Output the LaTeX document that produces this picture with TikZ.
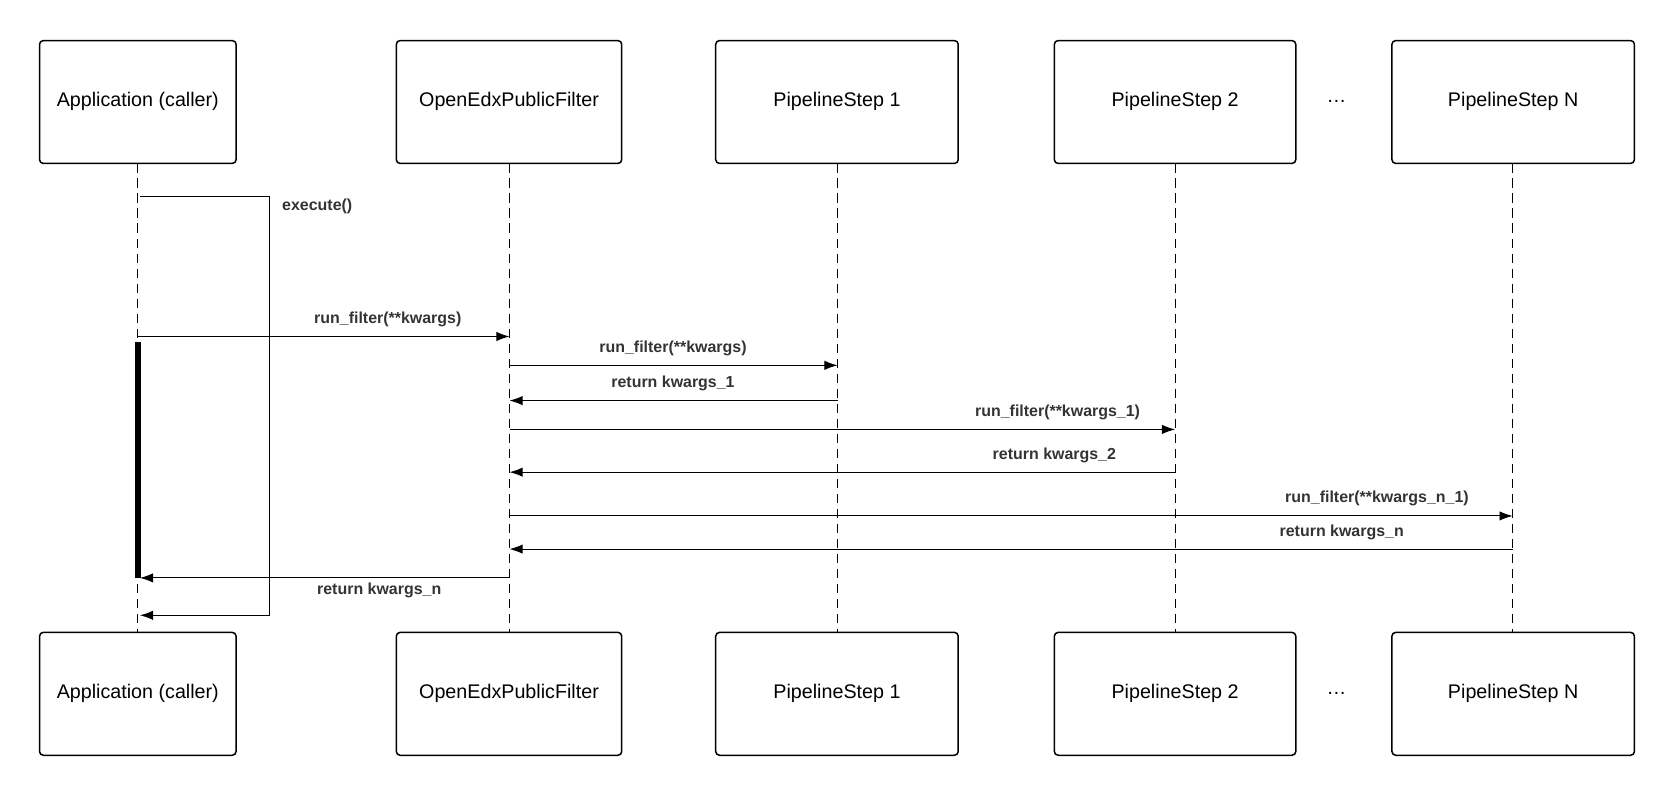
\documentclass[tikz,border=0pt]{standalone}
\usepackage{fontspec}
\setmainfont{Liberation Sans}
\usetikzlibrary{arrows.meta}
\tikzset{
  actor/.style={draw=black, rounded corners=2pt, line width=0.8pt, font=\fontsize{10.5}{12}\selectfont},
  msg/.style={-{Latex[length=7pt,width=5pt]}, line width=0.5pt},
  lbl/.style={font=\bfseries\fontsize{8.5}{10}\selectfont, text=black!80},
  life/.style={dashed, line width=0.5pt, dash pattern=on 5pt off 3pt}
}
\begin{document}
\begin{tikzpicture}[x=0.02cm, y=-0.02cm]
\useasboundingbox (0,0) rectangle (1568,746);
% actors, top and bottom
\foreach \name/\xa/\xb/\txt in {app/37/221/Application (caller), flt/371/582/OpenEdxPublicFilter,
    one/670/897/PipelineStep 1, two/987/1213/PipelineStep 2, enn/1303/1530/PipelineStep N} {
  \draw[actor] (\xa,38) rectangle (\xb,153);
  \node[font=\fontsize{10.5}{12}\selectfont] (\name-t) at ({(\xa+\xb)/2},95) {\txt};
  \draw[actor] (\xa,592) rectangle (\xb,707);
  \node[font=\fontsize{10.5}{12}\selectfont] (\name-b) at ({(\xa+\xb)/2},649) {\txt};
}
\node[font=\fontsize{10.5}{12}\selectfont] (dots-t) at (1251,95) {\dots};
\node[font=\fontsize{10.5}{12}\selectfont] (dots-b) at (1251,649) {\dots};
% lifelines
\foreach \x in {129,477,784,1100,1416}
  \draw[life] (\x,153) -- (\x,592);
% activation
\fill (126,320) rectangle (132,541);
% self call
\coordinate (s0) at (131,184);
\coordinate (s1) at (252,184);
\coordinate (s2) at (252,576);
\coordinate (s3) at (131,576);
\draw[msg] (s0) -- (s1) -- (s2) -- (s3);
\node[lbl, anchor=west] (exe) at (258,193) {execute()};
% messages
\draw[msg] (129,315) -- (477,315);
\node[lbl] (m1) at (363,299) {run\_filter(**kwargs)};
\draw[msg] (477,342) -- (784,342);
\node[lbl] (m2) at (630,326) {run\_filter(**kwargs)};
\draw[msg] (784,375) -- (477,375);
\node[lbl] (m3) at (630,359) {return kwargs\_1};
\draw[msg] (477,402) -- (1100,402);
\node[lbl] (m4) at (990,386) {run\_filter(**kwargs\_1)};
\draw[msg] (1100,442) -- (477,442);
\node[lbl] (m5) at (987,426) {return kwargs\_2};
\draw[msg] (477,483) -- (1416,483);
\node[lbl] (m6) at (1289,467) {run\_filter(**kwargs\_n\_1)};
\draw[msg] (1416,514) -- (477,514);
\node[lbl] (m7) at (1256,498) {return kwargs\_n};
\draw[msg] (477,541) -- (131,541);
\node[lbl] (m8) at (355,553) {return kwargs\_n};
\end{tikzpicture}
\end{document}
